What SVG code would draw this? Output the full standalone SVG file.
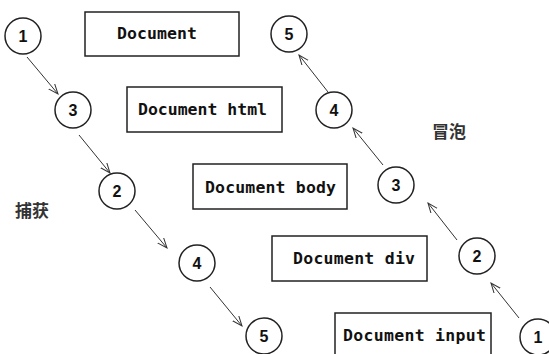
<svg xmlns="http://www.w3.org/2000/svg" width="549" height="354" viewBox="0 0 549 354">
<style>
.box{fill:#fff;stroke:#222;stroke-width:1.5}
.circ{fill:#fff;stroke:#222;stroke-width:1.5}
.lbl{font-family:"DejaVu Sans Mono","Liberation Mono",monospace;font-weight:bold;font-size:16.5px;fill:#111}
.num{font-family:"Liberation Sans",Arial,sans-serif;font-weight:bold;font-size:16px;fill:#111;text-anchor:middle}
.cjk{font-family:"Noto Sans CJK SC","Noto Sans",sans-serif;font-weight:bold;font-size:17px;fill:#333}
.arr{stroke:#333;stroke-width:1;fill:none;marker-end:url(#ah)}
</style>
<defs>
<marker id="ah" markerUnits="userSpaceOnUse" markerWidth="12" markerHeight="10" refX="10" refY="4.5" orient="auto">
<path d="M0,0.5 L10,4.5 L0,8.5" fill="none" stroke="#333" stroke-width="1"/>
</marker>
</defs>
<rect width="549" height="354" fill="#fff"/>
<g id="box-document"><rect class="box" x="85" y="12" width="154" height="44"/><text class="lbl" x="117" y="39" textLength="80">Document</text></g>
<g id="box-html"><rect class="box" x="127" y="87" width="155" height="45"/><text class="lbl" x="138" y="115" textLength="129">Document html</text></g>
<g id="box-body"><rect class="box" x="193" y="164" width="154" height="45"/><text class="lbl" x="205" y="193" textLength="131">Document body</text></g>
<g id="box-div"><rect class="box" x="272" y="236" width="155" height="45"/><text class="lbl" x="293" y="264" textLength="122">Document div</text></g>
<g id="box-input"><rect class="box" x="335" y="313" width="156" height="50"/><text class="lbl" x="343" y="341" textLength="143">Document input</text></g>
<g id="label-capture"><text class="cjk" x="15" y="217">捕获</text></g>
<g id="label-bubble"><text class="cjk" x="432" y="138">冒泡</text></g>
<g id="c-cap1"><circle class="circ" cx="23" cy="36" r="18"/><text class="num" x="23" y="42">1</text></g>
<g id="c-cap3"><circle class="circ" cx="73" cy="110" r="18"/><text class="num" x="73" y="116">3</text></g>
<g id="c-cap2"><circle class="circ" cx="117" cy="191" r="18"/><text class="num" x="117" y="197">2</text></g>
<g id="c-cap4"><circle class="circ" cx="197" cy="263" r="18"/><text class="num" x="197" y="269">4</text></g>
<g id="c-cap5"><circle class="circ" cx="264" cy="336" r="18"/><text class="num" x="264" y="342">5</text></g>
<g id="c-bub1"><circle class="circ" cx="538" cy="337" r="18"/><text class="num" x="538" y="343">1</text></g>
<g id="c-bub2"><circle class="circ" cx="477" cy="256" r="18"/><text class="num" x="477" y="262">2</text></g>
<g id="c-bub3"><circle class="circ" cx="396" cy="185" r="18"/><text class="num" x="396" y="191">3</text></g>
<g id="c-bub4"><circle class="circ" cx="334" cy="110" r="18"/><text class="num" x="334" y="116">4</text></g>
<g id="c-bub5"><circle class="circ" cx="289" cy="34" r="18"/><text class="num" x="289" y="40">5</text></g>
<g id="connectors">
<line class="arr" x1="27" y1="57" x2="58" y2="94"/>
<line class="arr" x1="79" y1="135" x2="110" y2="173"/>
<line class="arr" x1="135" y1="210" x2="167" y2="248"/>
<line class="arr" x1="210" y1="287" x2="242" y2="326"/>
<line class="arr" x1="519" y1="318" x2="491" y2="283"/>
<line class="arr" x1="457" y1="240" x2="428" y2="203"/>
<line class="arr" x1="383" y1="165" x2="353" y2="128"/>
<line class="arr" x1="328" y1="92" x2="299" y2="55"/>
</g>
</svg>
